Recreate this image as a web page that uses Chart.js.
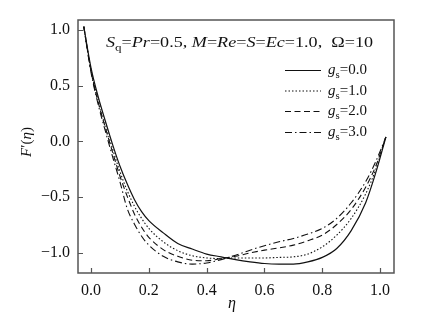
<!DOCTYPE html>
<html><head><meta charset="utf-8">
<script src="https://cdn.jsdelivr.net/npm/chart.js@4/dist/chart.umd.min.js"></script>
<style>html,body{margin:0;padding:0;background:#fff}canvas{display:block}</style>
</head><body>
<canvas id="c" width="438" height="327"></canvas>
<script>
const eta = [-0.025,0,0.025,0.05,0.075,0.1,0.125,0.15,0.175,0.2,0.25,0.3,0.35,0.4,0.45,0.5,0.55,0.6,0.65,0.7,0.75,0.8,0.85,0.9,0.95,0.985,1.02];
const gs0 = [1.03,0.66,0.40,0.18,-0.03,-0.22,-0.38,-0.52,-0.63,-0.71,-0.82,-0.915,-0.965,-1.01,-1.035,-1.06,-1.08,-1.095,-1.10,-1.10,-1.08,-1.04,-0.96,-0.80,-0.55,-0.28,0.04];
const gs1 = [1.03,0.64,0.37,0.15,-0.07,-0.27,-0.44,-0.58,-0.69,-0.78,-0.90,-0.98,-1.025,-1.045,-1.05,-1.045,-1.045,-1.045,-1.04,-1.035,-1.01,-0.945,-0.84,-0.69,-0.47,-0.25,0.04];
const gs2 = [1.03,0.63,0.35,0.12,-0.10,-0.31,-0.49,-0.65,-0.77,-0.86,-0.97,-1.03,-1.065,-1.07,-1.05,-1.03,-1.0,-0.975,-0.955,-0.93,-0.89,-0.84,-0.745,-0.61,-0.41,-0.22,0.04];
const gs3 = [1.03,0.62,0.33,0.09,-0.14,-0.36,-0.60,-0.74,-0.85,-0.93,-1.03,-1.08,-1.10,-1.09,-1.06,-1.02,-0.975,-0.935,-0.90,-0.87,-0.83,-0.78,-0.69,-0.55,-0.36,-0.18,0.04];
const seriesLabels = ['0.0','1.0','2.0','3.0'];
const xTicks = [0,0.2,0.4,0.6,0.8,1.0];
const yTicks = [-1.0,-0.5,0,0.5,1.0];

const dashes = [[], [1.5,2], [6,3.5], [7,3,1.5,3]];
const allSeries = [gs0,gs1,gs2,gs3];
const SERIF = '"Liberation Serif", "DejaVu Serif", serif';

function fmt(v){ const s = Math.abs(v).toFixed(1); return v < 0 ? '\u2212' + s : s; }

function drawRich(ctx, x, y, parts, size, targetW){
  const fontOf = p => (p.it ? 'italic ' : '') + Math.round((p.sub ? size*0.72 : size)*10)/10 + 'px ' + SERIF;
  let w = 0;
  parts.forEach(p => { ctx.font = fontOf(p); w += ctx.measureText(p.t).width; });
  let sc = targetW ? targetW / w : 1;
  let cx = x;
  parts.forEach(p => {
    ctx.font = fontOf(p);
    const pw = ctx.measureText(p.t).width;
    ctx.save();
    ctx.translate(cx, y + (p.sub ? size*0.28 : 0));
    ctx.scale(sc, 1);
    ctx.fillText(p.t, 0, 0);
    ctx.restore();
    cx += pw * sc;
  });
  return cx;
}

const decor = {
  id: 'decor',
  afterDatasetsDraw(chart){
    const ctx = chart.ctx, a = chart.chartArea;
    const xs = chart.scales.x, ys = chart.scales.y;
    ctx.save();
    ctx.strokeStyle = '#555';
    ctx.lineWidth = 1.5;
    ctx.strokeRect(a.left, a.top, a.right - a.left, a.bottom - a.top);
    ctx.lineWidth = 1.2;
    ctx.beginPath();
    xTicks.forEach(v => { const px = Math.round(xs.getPixelForValue(v)) + 0.5; ctx.moveTo(px, a.bottom); ctx.lineTo(px, a.bottom - 5); });
    yTicks.forEach(v => { const py = Math.round(ys.getPixelForValue(v)) + 0.5; ctx.moveTo(a.left, py); ctx.lineTo(a.left + 5, py); });
    ctx.stroke();

    ctx.fillStyle = '#111';
    ctx.textBaseline = 'alphabetic';
    ctx.textAlign = 'left';
    // annotation
    drawRich(ctx, 106, 47, [
      {t:'S', it:true},{t:'q', sub:true},{t:'='},{t:'Pr', it:true},{t:'=0.5, '},
      {t:'M', it:true},{t:'='},{t:'Re', it:true},{t:'='},{t:'S', it:true},{t:'='},
      {t:'Ec', it:true},{t:'=1.0,  \u03A9=10'}
    ], 15, 267);
    // legend
    const rows = [70, 90.5, 111, 132];
    rows.forEach((ry, i) => {
      ctx.save();
      ctx.strokeStyle = '#111';
      ctx.lineWidth = 1.1;
      ctx.setLineDash(dashes[i]);
      ctx.beginPath();
      ctx.moveTo(285, ry + 0.5); ctx.lineTo(321, ry + 0.5);
      ctx.stroke();
      ctx.restore();
      drawRich(ctx, 328, ry + 4, [{t:'g', it:true},{t:'s', sub:true},{t:'=' + seriesLabels[i]}], 15);
    });
    // y title
    ctx.save();
    ctx.translate(31, 142);
    ctx.rotate(-Math.PI/2);
    ctx.font = 'italic 15px ' + SERIF;
    ctx.textAlign = 'left';
    const ytParts = [{t:'F', it:true},{t:'\u2032('},{t:'\u03B7', it:true},{t:')'}];
    let w = 0;
    ytParts.forEach(p => { ctx.font = (p.it?'italic ':'') + '15px ' + SERIF; w += ctx.measureText(p.t).width; });
    drawRich(ctx, -w/2, 0, ytParts, 15);
    ctx.restore();
    // x title
    ctx.font = 'italic 16px ' + SERIF;
    ctx.textAlign = 'center';
    ctx.fillText('\u03B7', 232, 308);
    ctx.restore();
  }
};

const datasets = allSeries.map((s, i) => ({
  label: 'gs=' + seriesLabels[i],
  data: eta.map((e, k) => ({x: e, y: s[k]})),
  borderColor: '#111',
  borderWidth: i === 0 ? 1.2 : 1.1,
  borderDash: dashes[i],
  pointRadius: 0,
  fill: false,
  cubicInterpolationMode: 'monotone'
}));

new Chart(document.getElementById('c'), {
  type: 'line',
  data: { datasets },
  options: {
    responsive: false,
    animation: false,
    devicePixelRatio: 1,
    layout: { padding: { left: 0, top: 20, right: 44, bottom: 0 } },
    plugins: { legend: { display: false }, tooltip: { enabled: false } },
    scales: {
      x: {
        type: 'linear', min: -0.045, max: 1.048,
        grid: { display: false, drawTicks: false },
        border: { display: false },
        afterBuildTicks: s => { s.ticks = xTicks.map(v => ({value: v})); },
        afterFit: s => { s.height = 54; },
        ticks: { color: '#111', padding: 8, font: { family: SERIF, size: 16 }, callback: v => fmt(v), maxRotation: 0, autoSkip: false }
      },
      y: {
        type: 'linear', min: -1.18, max: 1.09,
        grid: { display: false, drawTicks: false },
        border: { display: false },
        afterBuildTicks: s => { s.ticks = yTicks.map(v => ({value: v})); },
        afterFit: s => { s.width = 78; },
        ticks: { color: '#111', padding: 8, font: { family: SERIF, size: 16 }, callback: v => fmt(v), autoSkip: false }
      }
    }
  },
  plugins: [decor]
});
</script>
</body></html>
